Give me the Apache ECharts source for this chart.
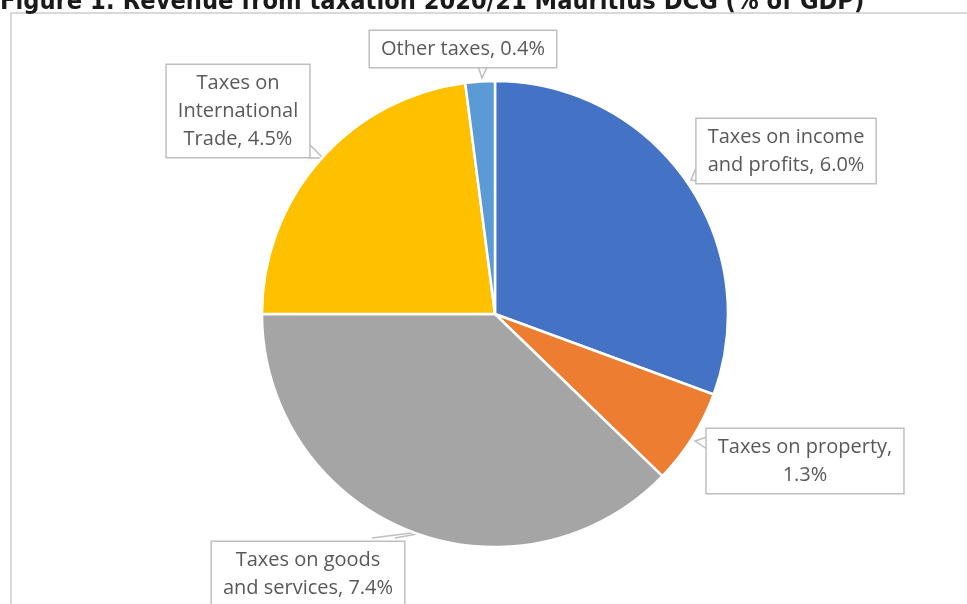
<!DOCTYPE html>
<html>
<head>
<meta charset="utf-8">
<script src="https://cdn.jsdelivr.net/npm/echarts@6/dist/echarts.min.js"></script>
<style>
  html, body { margin: 0; padding: 0; background: #fff; }
  #chart { width: 967px; height: 604px; }
</style>
</head>
<body>
<div id="chart"></div>
<script>
// Tax revenue by category, 2020/21 (% of GDP)
const categories = [
  'Taxes on income and profits',
  'Taxes on property',
  'Taxes on goods and services',
  'Taxes on International Trade',
  'Other taxes'
];
const values = [6.0, 1.3, 7.4, 4.5, 0.4];
// Callout text, split into the lines shown in each box
const labelLines = [
  ['Taxes on income', 'and profits, {v}%'],
  ['Taxes on property,', '{v}%'],
  ['Taxes on goods', 'and services, {v}%'],
  ['Taxes on', 'International', 'Trade, {v}%'],
  ['Other taxes, {v}%']
];
const colors = ['#4472C4', '#ED7D31', '#A5A5A5', '#FFC000', '#5B9BD5'];

// Callout box centres and tail shapes (pixel layout)
const boxCenter = [
  [786, 151],
  [805, 461],
  [308, 574],
  [238, 111],
  [463, 49]
];
const tails = [
  [[698, 163], [691, 180], [706, 183]],
  [[707, 437], [695, 441], [707, 449]],
  [[372, 538], [450, 528], [395, 538]],
  [[308, 143], [323, 158], [308, 158]],
  [[477, 63], [482, 78], [489, 63]]
];

const chart = echarts.init(document.getElementById('chart'));

chart.setOption({
  animation: false,
  color: colors,
  graphic: [
    {
      type: 'rect',
      shape: { x: 11, y: 13, width: 1000, height: 700 },
      style: { fill: '#fff', stroke: '#d9d9d9', lineWidth: 2 },
      z: -10
    },
    {
      type: 'text',
      x: 0,
      y: 15,
      scaleX: 1.05,
      style: {
        text: 'Figure 1: Revenue from taxation 2020/21 Mauritius DCG (% of GDP)',
        font: 'bold 24px "DejaVu Sans Condensed", "DejaVu Sans", sans-serif',
        fill: '#1a1a1a',
        verticalAlign: 'bottom',
        align: 'left'
      },
      z: 10
    }
  ],
  series: [{
    type: 'pie',
    center: [495, 314],
    radius: 233,
    startAngle: 90,
    clockwise: true,
    data: categories.map((c, i) => ({ name: c, value: values[i] })),
    itemStyle: { borderColor: '#fff', borderWidth: 2.5 },
    label: {
      show: true,
      formatter: p => labelLines[p.dataIndex]
        .map(s => s.replace('{v}', values[p.dataIndex].toFixed(1))).join('\n'),
      color: '#595959',
      fontFamily: '"Open Sans", "Noto Sans", sans-serif',
      fontSize: 20,
      lineHeight: 28,
      align: 'center',
      backgroundColor: '#fff',
      borderColor: '#bfbfbf',
      borderWidth: 1.5,
      padding: [4, 11, 4, 11]
    },
    labelLine: {
      show: true,
      lineStyle: { color: '#bfbfbf', width: 1.5 }
    },
    labelLayout: p => ({
      x: boxCenter[p.dataIndex][0],
      y: boxCenter[p.dataIndex][1],
      align: 'center',
      verticalAlign: 'middle',
      labelLinePoints: tails[p.dataIndex]
    }),
    emphasis: { disabled: true }
  }]
});
</script>
</body>
</html>
